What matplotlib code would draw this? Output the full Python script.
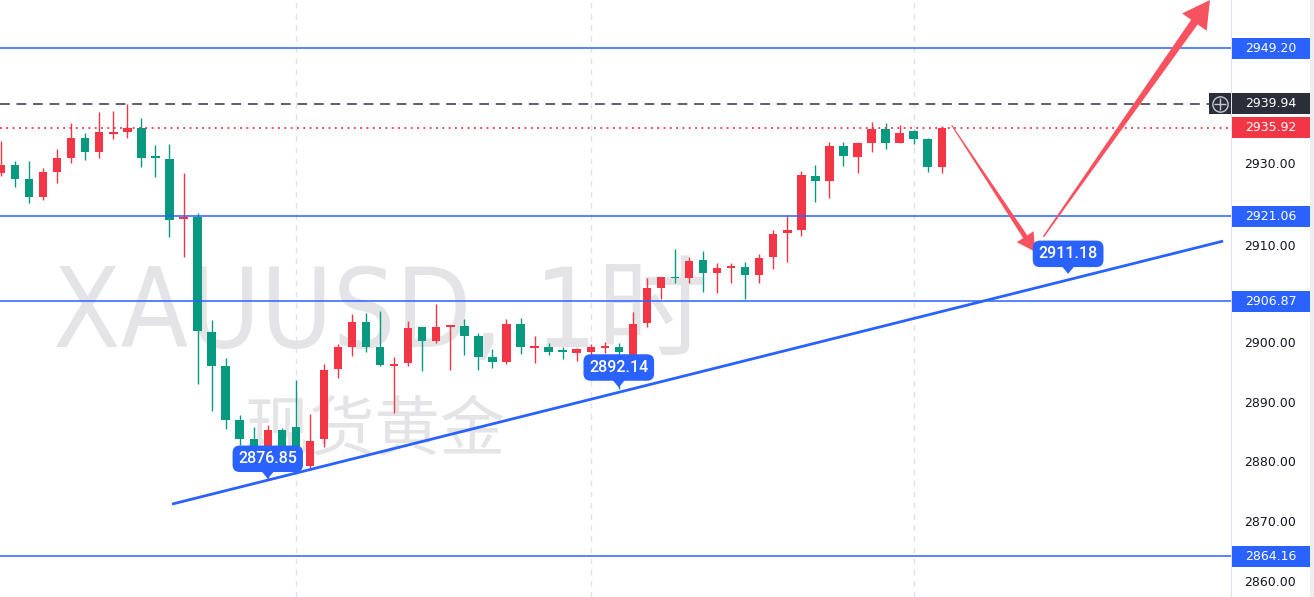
import matplotlib
matplotlib.use('Agg')
import matplotlib.pyplot as plt
from matplotlib.patches import Rectangle, Polygon
from matplotlib.transforms import blended_transform_factory, ScaledTranslation, IdentityTransform
import numpy as np

plt.rcParams['font.family'] = ['DejaVu Sans', 'Noto Sans CJK SC']

# XAUUSD 1H candles
opens = [2928.26, 2929.70, 2927.25, 2924.34, 2928.48, 2930.87, 2934.17, 2931.78, 2934.85, 2935.13,
         2935.80, 2931.00, 2930.65, 2920.55, 2920.99, 2901.62, 2895.93, 2886.93, 2883.75, 2880.30,
         2885.30, 2885.70, 2879.20, 2883.70, 2895.43, 2899.21, 2903.30, 2899.20, 2896.00, 2896.43,
         2902.50, 2900.17, 2902.60, 2902.73, 2901.00, 2897.54, 2896.70, 2902.96, 2899.05, 2899.10,
         2898.45, 2898.20, 2898.40, 2899.05, 2899.10, 2896.60, 2903.13, 2908.99, 2910.78, 2910.67,
         2913.74, 2911.50, 2912.45, 2912.60, 2911.22, 2914.29, 2918.20, 2918.76, 2927.86, 2927.02,
         2932.83, 2931.04, 2933.28, 2935.63, 2933.38, 2935.40, 2933.95, 2929.26]
highs = [2933.67, 2930.32, 2930.27, 2929.10, 2932.33, 2936.68, 2935.06, 2938.47, 2938.69, 2939.94,
         2937.47, 2933.00, 2933.17, 2928.26, 2921.55, 2903.69, 2897.37, 2887.77, 2885.80, 2886.10,
         2885.60, 2893.60, 2887.90, 2896.40, 2899.67, 2904.64, 2904.80, 2905.20, 2897.50, 2903.50,
         2902.60, 2906.30, 2902.85, 2903.80, 2901.56, 2898.90, 2903.80, 2904.07, 2901.00, 2899.80,
         2899.10, 2899.00, 2899.70, 2900.05, 2899.80, 2905.10, 2910.67, 2910.94, 2915.53, 2914.29,
         2915.30, 2913.18, 2913.28, 2913.45, 2914.69, 2918.76, 2921.27, 2928.64, 2929.65, 2933.55,
         2933.55, 2933.55, 2936.80, 2936.63, 2936.35, 2935.50, 2934.22, 2936.18]
lows = [2927.80, 2925.90, 2923.23, 2923.80, 2926.70, 2929.93, 2930.54, 2930.77, 2934.05, 2934.22,
        2929.26, 2927.70, 2917.54, 2914.29, 2892.90, 2888.49, 2885.40, 2882.75, 2880.20, 2876.85,
        2880.50, 2879.40, 2878.60, 2882.50, 2893.90, 2897.70, 2898.40, 2896.00, 2888.20, 2896.00,
        2895.10, 2899.90, 2895.40, 2897.80, 2895.40, 2895.60, 2896.40, 2897.94, 2896.50, 2897.90,
        2897.10, 2896.80, 2897.00, 2898.10, 2892.14, 2896.00, 2902.50, 2907.15, 2909.83, 2909.93,
        2908.43, 2908.16, 2909.93, 2907.15, 2909.83, 2912.18, 2913.45, 2917.76, 2923.50, 2924.17,
        2929.53, 2928.26, 2931.88, 2932.33, 2933.28, 2933.10, 2928.53, 2928.26]
closes = [2929.65, 2927.24, 2924.34, 2928.48, 2930.87, 2934.12, 2931.83, 2935.13, 2935.00, 2935.80,
          2930.87, 2930.80, 2920.44, 2920.99, 2901.89, 2895.98, 2886.93, 2883.75, 2882.00, 2885.30,
          2881.60, 2880.30, 2883.40, 2895.40, 2899.10, 2903.40, 2899.20, 2896.20, 2896.15, 2902.29,
          2900.17, 2902.50, 2902.70, 2901.00, 2897.54, 2896.70, 2902.96, 2899.20, 2899.15, 2898.40,
          2898.35, 2898.90, 2899.10, 2899.15, 2898.40, 2902.96, 2908.99, 2910.84, 2910.68, 2913.57,
          2911.61, 2912.35, 2912.55, 2911.22, 2914.12, 2918.09, 2918.70, 2927.97, 2927.02, 2932.83,
          2931.16, 2933.28, 2935.63, 2933.38, 2934.96, 2933.95, 2929.36, 2935.92]

levels = [2949.20, 2921.06, 2906.87, 2864.16]
last_high = 2939.94
last_price = 2935.92
tick_values = [2860, 2870, 2880, 2890, 2900, 2930]
shifted_tick = 2910
callouts = [(19, 2876.85), (44, 2892.14), (76, 2911.18)]
trend_x = [12.18, 87.04]
trend_y = [2872.86, 2916.92]
arrow_down = [(67.7, 2936.35), (73.65, 2915.13)]
arrow_up = [(74.24, 2917.64), (86.1, 2957.3)]
grid_x = [21, 42, 65]

UP = '#f23645'
DOWN = '#089981'
BLUE = '#2962ff'

W, H = 1314, 597
fig = plt.figure(figsize=(W / 100, H / 100), dpi=100)
fig.patch.set_facecolor('white')
ax = fig.add_axes([0, 0, 1231 / W, 1])
ax.set_xlim(-0.07, 87.6)
ax.set_ylim(2857.3, 2957.3)
for s in ['top', 'left', 'bottom']:
    ax.spines[s].set_visible(False)
ax.spines['right'].set_color('#e0e3eb')
ax.set_xticks([])

# watermark
ax.text(53 / 1231, 1 - 347 / 597, 'XAUUSD, 1时', transform=ax.transAxes,
        family=['DejaVu Sans', 'Noto Sans CJK SC'], fontstretch='condensed', fontsize=79,
        color='#e4e4e7', ha='left', va='baseline', zorder=0)
ax.text(375 / 1231, 1 - 431 / 597, '现货黄金', transform=ax.transAxes,
        family=['Noto Sans CJK SC'], fontsize=47, color='#e4e4e7',
        ha='center', va='center', zorder=0)

for g in grid_x:
    ax.axvline(g, color='#dfe2ea', ls=(0, (4, 4)), lw=1, zorder=1)

# candles
x = np.arange(len(opens))
o = np.array(opens)
c = np.array(closes)
cols = np.where(c >= o, UP, DOWN)
ax.vlines(x, lows, highs, colors=cols, lw=1, zorder=3)
body = np.maximum(np.abs(c - o), 0.3)
ax.bar(x, body, bottom=np.minimum(o, c), width=0.6, color=cols, linewidth=0, zorder=4)

# horizontal levels
for lv in levels:
    ax.axhline(lv, color=BLUE, lw=1.1, zorder=5)
ax.axhline(last_high, xmax=1209 / 1231, color='#5d606b', lw=1.4, ls=(0, (5, 3.5)), zorder=5)
ax.axhline(last_price, color=UP, lw=1.3, ls=(0, (1, 2.5)), zorder=5)

# trend line
ax.plot(trend_x, trend_y, color=BLUE, lw=2, zorder=6, solid_capstyle='butt')

# price axis
ax.yaxis.tick_right()
ax.set_yticks(tick_values)
ax.set_yticklabels([f'{v:.2f}' for v in tick_values])
ax.tick_params(axis='y', length=0, pad=9.4, labelsize=9, labelcolor='#131722')
bt = blended_transform_factory(ax.transAxes, ax.transData)
ax.text(1244 / 1231, shifted_tick, f'{shifted_tick:.2f}', fontsize=9, color='#131722',
        ha='left', va='center',
        transform=bt + ScaledTranslation(0, 0.36, fig.dpi_scale_trans), clip_on=False)

hp = 21 / 5.97 / 2


def price_box(val, fc):
    ax.add_patch(Rectangle((1232 / 1231, val - hp), 78 / 1231, 2 * hp, transform=bt,
                           fc=fc, ec='none', clip_on=False, zorder=10))
    ax.text(1271 / 1231, val, f'{val:.2f}', transform=bt, color='white', ha='center',
            va='center', fontsize=9, clip_on=False, zorder=11)


for lv in levels:
    price_box(lv, BLUE)
price_box(last_high, '#2a2e39')
price_box(last_price, UP)

# crosshair button
ax.add_patch(Rectangle((1209 / 1231, last_high - hp), 22 / 1231, 2 * hp, transform=bt,
                       fc='#2a2e39', ec='none', clip_on=False, zorder=10))
ax.plot([1220 / 1231], [last_high], transform=bt, marker='o', ms=11, mfc='none',
        mec='#c9cbd1', mew=1, clip_on=False, zorder=11)
ax.plot([1220 / 1231], [last_high], transform=bt, marker='+', ms=9, mec='#c9cbd1',
        mew=1, clip_on=False, zorder=11)

# right strip
fig.patches.append(Rectangle((1310 / W, 0), 4 / W, 1, transform=fig.transFigure,
                             fc='#eceef2', ec='none'))

fig.canvas.draw()


def tapered_arrow(p0, p1, w0, w1, head_w, head_len):
    a = ax.transData.transform(p0)
    b = ax.transData.transform(p1)
    d = b - a
    u = d / np.hypot(*d)
    n = np.array([-u[1], u[0]])
    base = b - u * head_len
    pts = [a + n * w0 / 2, base + n * w1 / 2, base + n * head_w / 2, b,
           base - n * head_w / 2, base - n * w1 / 2, a - n * w0 / 2]
    p = Polygon(pts, closed=True, transform=IdentityTransform(), fc='#f7525f',
                ec='none', zorder=7)
    ax.add_patch(p)
    p.set_clip_box(ax.bbox)


tapered_arrow(arrow_down[0], arrow_down[1], 1, 5, 20, 18)
tapered_arrow(arrow_up[0], arrow_up[1], 1.5, 8, 30, 27)

# callout labels
for i, v in callouts:
    tx, ty = ax.transData.transform((i, v))
    ax.add_patch(Polygon([(tx - 7, ty + 10), (tx + 7, ty + 10), (tx, ty + 1.5)],
                         transform=IdentityTransform(), fc=BLUE, ec='none', zorder=9))
    ax.annotate(f'{v:.2f}', xy=(i, v), xytext=(0, 21.5 * 0.72), textcoords='offset points',
                ha='center', va='center', color='white', fontsize=11.5, family='Roboto',
                fontweight='medium', zorder=9,
                bbox=dict(boxstyle='round,pad=0.36,rounding_size=0.45', fc=BLUE, ec='none'))

fig.savefig('out.png', dpi=100)
